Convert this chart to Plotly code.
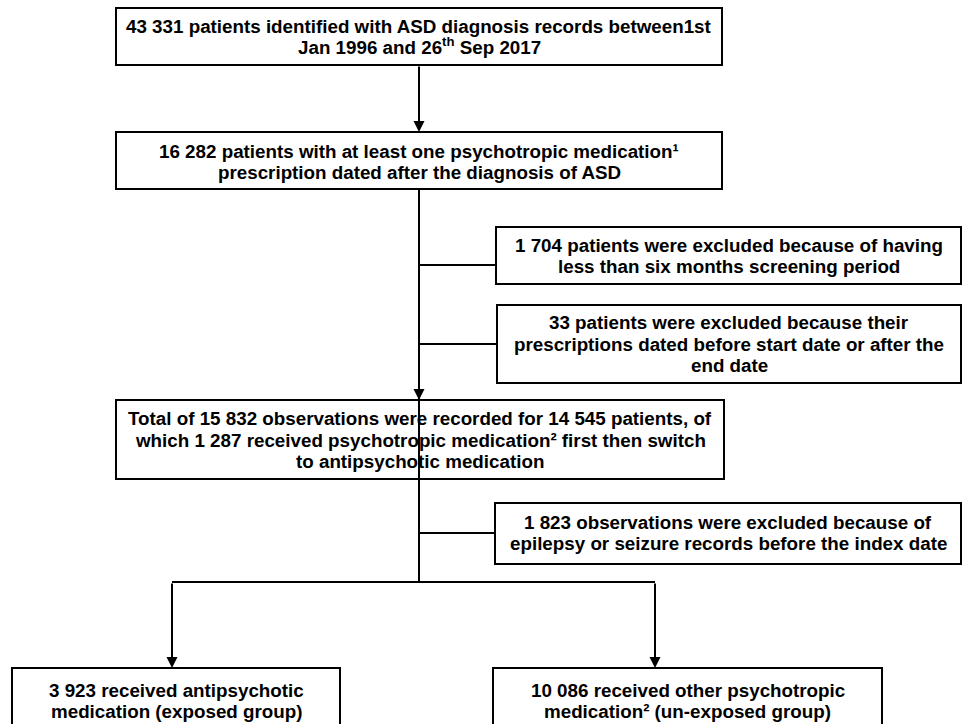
import plotly.graph_objects as go

# ---- data: flowchart texts (counts & labels) ----
box_ids = ["A", "B", "E1", "E2", "C", "E3", "L", "R"]
box_texts = [
    "43 331 patients identified with ASD diagnosis records between1st<br>Jan 1996 and 26<sup>th</sup> Sep 2017",
    "16 282 patients with at least one psychotropic medication¹<br>prescription dated after the diagnosis of ASD",
    "1 704 patients were excluded because of having<br>less than six months screening period",
    "33 patients were excluded because their<br>prescriptions dated before start date or after the<br>end date",
    "Total of 15 832 observations were recorded for 14 545 patients, of<br>which 1 287 received psychotropic medication² first then switch<br>to antipsychotic medication",
    "1 823 observations were excluded because of<br>epilepsy or seizure records before the index date",
    "3 923 received antipsychotic<br>medication (exposed group)",
    "10 086 received other psychotropic<br>medication² (un-exposed group)",
]

# ---- layout geometry (pixels, y downward) ----
geom = {
    "A": (116, 8, 722, 65),
    "B": (116, 132, 722, 189),
    "E1": (496, 227, 961, 284),
    "E2": (497, 305, 961, 383),
    "C": (116, 400, 724, 479),
    "E3": (495, 503, 961, 564),
    "L": (12, 668, 340, 740),
    "R": (493, 668, 882, 740),
}
text_cy = {"A": 37, "B": 162, "E1": 256, "E2": 344, "C": 440, "E3": 533, "L": 701, "R": 701}
LINE_GAP = 21.5

W, H = 962, 724
LW = 2
FONT = dict(family="Liberation Sans, Arial, Helvetica, sans-serif", size=18.8, color="black")

fig = go.Figure()
shapes = []
annotations = []

for bid, txt in zip(box_ids, box_texts):
    x0, y0, x1, y1 = geom[bid]
    shapes.append(dict(type="rect", x0=x0, y0=y0, x1=x1, y1=y1, xref="x", yref="y",
                       line=dict(color="black", width=LW), fillcolor="white", layer="below"))
    parts = txt.split("<br>")
    n = len(parts)
    cy = text_cy[bid]
    for i, p in enumerate(parts):
        ly = cy + (i - (n - 1) / 2) * LINE_GAP
        annotations.append(dict(x=(x0 + x1) / 2, y=ly + 11.5, xref="x", yref="y",
                                text="<b>" + p + "</b>",
                                showarrow=False, align="center", xanchor="center", yanchor="bottom",
                                font=FONT, borderpad=0))

# plain connector lines
lines = [
    (419, 189, 419, 582),
    (419, 265, 496, 265),
    (419, 344, 497, 344),
    (419, 533, 495, 533),
    (172, 582, 655, 582),
]
for x0, y0, x1, y1 in lines:
    shapes.append(dict(type="line", x0=x0, y0=y0, x1=x1, y1=y1, xref="x", yref="y",
                       line=dict(color="black", width=LW)))

# arrows (tail -> head)
arrows = [
    (419, 65, 419, 132),
    (419, 189, 419, 400),
    (172, 582, 172, 668),
    (655, 582, 655, 668),
]
for x0, y0, x1, y1 in arrows:
    annotations.append(dict(x=x1, y=y1, ax=x0, ay=y0, xref="x", yref="y", axref="x", ayref="y",
                            text="", showarrow=True, arrowhead=2, arrowsize=1.1, arrowwidth=LW,
                            arrowcolor="black", standoff=0, startstandoff=0))

fig.update_layout(
    width=W, height=H, margin=dict(l=0, r=0, t=0, b=0),
    paper_bgcolor="white", plot_bgcolor="white",
    xaxis=dict(range=[0, W], visible=False, fixedrange=True),
    yaxis=dict(range=[H, 0], visible=False, fixedrange=True),
    shapes=shapes, annotations=annotations, showlegend=False,
)

fig.write_html("out.html", config={"displayModeBar": False})

# remove default page margin so the figure sits at the window's top-left
with open("out.html", "r", encoding="utf-8") as f:
    html = f.read()
html = html.replace("<head>", "<head><style>html,body{margin:0;padding:0;overflow:hidden;}</style>", 1)
with open("out.html", "w", encoding="utf-8") as f:
    f.write(html)
